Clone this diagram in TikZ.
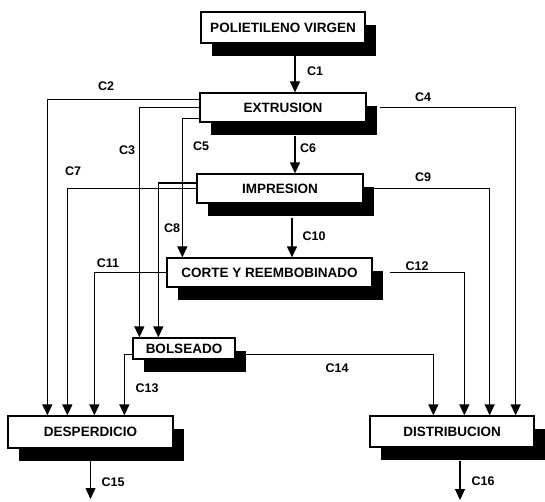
\documentclass[tikz,border=0pt]{standalone}
\usepackage{fontspec}
\setmainfont{Liberation Sans}
\usetikzlibrary{arrows.meta,shadows}
\tikzset{
  proc/.style={draw=black, fill=white, line width=1.3pt, inner sep=0pt,
               font=\fontsize{13.5}{16}\selectfont\bfseries,
               drop shadow={shadow xshift=11pt, shadow yshift=-13pt, fill=black, opacity=1}},
  flow/.style={line width=1.3pt, -{Triangle[length=11pt,width=10pt]}},
  clab/.style={font=\fontsize{12.5}{15}\selectfont\bfseries},
}

\begin{document}
\begin{tikzpicture}[x=1pt, y=-1pt]
  \useasboundingbox (0,0) rectangle (545,502);
  \node[proc, minimum width=164pt, minimum height=31pt] (virgen) at (283,27.5) {POLIETILENO VIRGEN};
  \node[proc, minimum width=166pt, minimum height=29pt] (extr) at (283,107.5) {EXTRUSION};
  \node[proc, minimum width=166pt, minimum height=29pt] (impr) at (280,188.5) {IMPRESION};
  \node[proc, minimum width=205pt, minimum height=29pt] (corte) at (269.5,272.5) {CORTE Y REEMBOBINADO};
  \node[proc, minimum width=102pt, minimum height=21pt] (bols) at (184,348.5) {BOLSEADO};
  \node[proc, minimum width=165pt, minimum height=32pt] (desp) at (90.5,432) {DESPERDICIO};
  \node[proc, minimum width=164pt, minimum height=31pt] (dist) at (452,431.5) {DISTRIBUCION};
  \coordinate (fin1) at (90.5,499);
  \coordinate (fin2) at (460,500);

  \draw[flow] ([xshift=12pt,yshift=-12pt]virgen.south) coordinate (a1) -- (a1 |- extr.north);
  \draw[flow] ([yshift=-7pt]extr.north west) -| ([xshift=40pt]desp.north west);
  \draw[flow] ([yshift=-15pt]extr.north west) -| ([xshift=7pt]bols.north west);
  \draw[flow] ([xshift=13pt,yshift=-15pt]extr.north east) -| ([xshift=-19pt]dist.north east);
  \draw[flow] ([yshift=-26pt]extr.north west) -| ([xshift=16pt]corte.north west);
  \draw[flow] ([xshift=12pt,yshift=-13pt]extr.south) coordinate (a6) -- (a6 |- impr.north);
  \draw[flow] (impr.west) -| ([xshift=60pt]desp.north west);
  \draw[flow] ([yshift=5.5pt]impr.west) -| ([xshift=26pt]bols.north west);
  \draw[flow] ([xshift=10pt]impr.east) -| ([xshift=-45pt]dist.north east);
  \draw[flow] ([xshift=12pt,yshift=-14pt]impr.south) coordinate (a10) -- (a10 |- corte.north);
  \draw[flow] (corte.west) -| ([xshift=87pt]desp.north west);
  \draw[flow] ([xshift=17pt]corte.east) -| ([xshift=95pt]dist.north west);
  \draw[flow] ([yshift=-6pt]bols.west) -| ([xshift=117pt]desp.north west);
  \draw[flow] ([xshift=8pt,yshift=-6pt]bols.east) -| ([xshift=64pt]dist.north west);
  \draw[flow] ([yshift=-12pt]desp.south) -- (fin1);
  \draw[flow] ([xshift=8pt,yshift=-13pt]dist.south) -- (fin2);

  \node[clab] (c1) at (315,71) {C1};
  \node[clab] (c2) at (106,86) {C2};
  \node[clab] (c3) at (127,150) {C3};
  \node[clab] (c4) at (423,97) {C4};
  \node[clab] (c5) at (201,146) {C5};
  \node[clab] (c6) at (308,148) {C6};
  \node[clab] (c7) at (73,171) {C7};
  \node[clab] (c8) at (172,228) {C8};
  \node[clab] (c9) at (423,177) {C9};
  \node[clab] (c10) at (314,236) {C10};
  \node[clab] (c11) at (108,263) {C11};
  \node[clab] (c12) at (417,266) {C12};
  \node[clab] (c13) at (147,388) {C13};
  \node[clab] (c14) at (337,368) {C14};
  \node[clab] (c15) at (113,482) {C15};
  \node[clab] (c16) at (483,481) {C16};
\end{tikzpicture}
\end{document}
